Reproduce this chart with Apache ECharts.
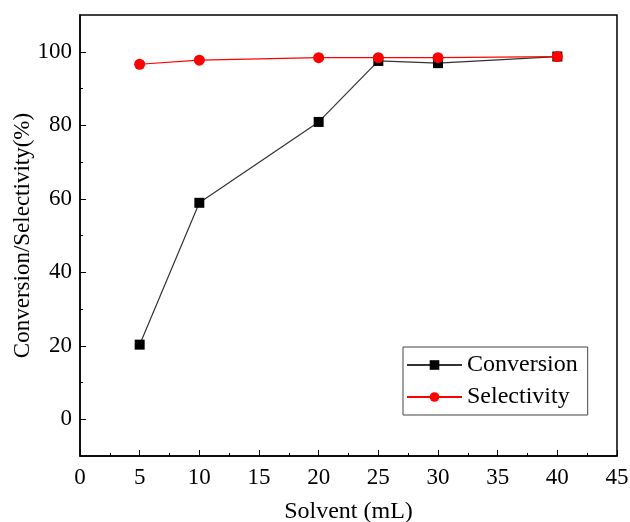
<!DOCTYPE html>
<html>
<head>
<meta charset="utf-8">
<script src="https://cdn.jsdelivr.net/npm/echarts@6/dist/echarts.min.js"></script>
<style>
  body { margin: 0; background: #fff; }
  #main { width: 630px; height: 522px; }
</style>
</head>
<body>
<div id="main"></div>
<script>
// solvent volume (mL)
const solvent = [5, 10, 20, 25, 30, 40];
const conversion = [20.3, 58.9, 80.9, 97.5, 96.9, 98.7];
const selectivity = [96.6, 97.7, 98.4, 98.4, 98.4, 98.7];
const yMajor = [0, 20, 40, 60, 80, 100];
const yMinor = [10, 30, 50, 70, 90];

const font = "'Liberation Serif', 'Times New Roman', serif";

let myEchart = echarts.init(document.getElementById("main"));
let option = {
  animation: false,
  grid: {
    left: 80,
    right: 13,
    top: 15,
    bottom: 66,
    outerBoundsMode: "none",
    show: true,
    borderColor: "#000",
    borderWidth: 1.5,
  },
  legend: {
    left: 403,
    top: 347,
    orient: "vertical",
    width: 186,
    padding: [6, 10, 6, 3],
    itemGap: 8,
    itemWidth: 55,
    itemHeight: 12,
    borderColor: "#444",
    borderWidth: 1,
    textStyle: { fontFamily: font, fontSize: 24, color: "#000" },
    data: ["Conversion", "Selectivity"],
  },
  xAxis: {
    type: "value",
    min: 0,
    max: 45,
    interval: 5,
    name: "Solvent (mL)",
    nameLocation: "middle",
    nameGap: 44,
    nameTextStyle: { fontFamily: font, fontSize: 24, color: "#000" },
    axisLine: { onZero: false, lineStyle: { color: "#000", width: 1.5 } },
    axisTick: { inside: true, length: 6, lineStyle: { color: "#000" } },
    minorTick: { show: true, splitNumber: 2, length: 3, lineStyle: { color: "#000" } },
    axisLabel: { fontFamily: font, fontSize: 23, color: "#000", margin: 10 },
    splitLine: { show: false },
  },
  yAxis: [
    {
      type: "value",
      min: -10,
      max: 110,
      name: "Conversion/Selectivity(%)",
      nameLocation: "middle",
      nameGap: 46,
      nameMoveOverlap: false,
      nameTextStyle: { fontFamily: font, fontSize: 23, color: "#000" },
      axisLine: { show: true, lineStyle: { color: "#000", width: 1.5 } },
      axisTick: { show: true, inside: true, length: 6, customValues: yMajor, lineStyle: { color: "#000" } },
      axisLabel: { fontFamily: font, fontSize: 23, color: "#000", margin: 8, customValues: yMajor },
      splitLine: { show: false },
    },
    {
      type: "value",
      min: -10,
      max: 110,
      position: "left",
      axisLine: { show: false },
      axisTick: { show: true, inside: true, length: 3, customValues: yMinor, lineStyle: { color: "#000" } },
      axisLabel: { show: false },
      splitLine: { show: false },
    },
  ],
  series: [
    {
      name: "Conversion",
      type: "line",
      data: solvent.map((x, i) => [x, conversion[i]]),
      symbol: "rect",
      symbolSize: 10,
      itemStyle: { color: "#000" },
      lineStyle: { color: "#333", width: 1.2 },
      z: 2,
    },
    {
      name: "Selectivity",
      type: "line",
      data: solvent.map((x, i) => [x, selectivity[i]]),
      symbol: "circle",
      symbolSize: 11,
      itemStyle: { color: "#ff0000" },
      lineStyle: { color: "#ff0000", width: 1.2 },
      z: 3,
    },
  ],
};
myEchart.setOption(option);
</script>
</body>
</html>
